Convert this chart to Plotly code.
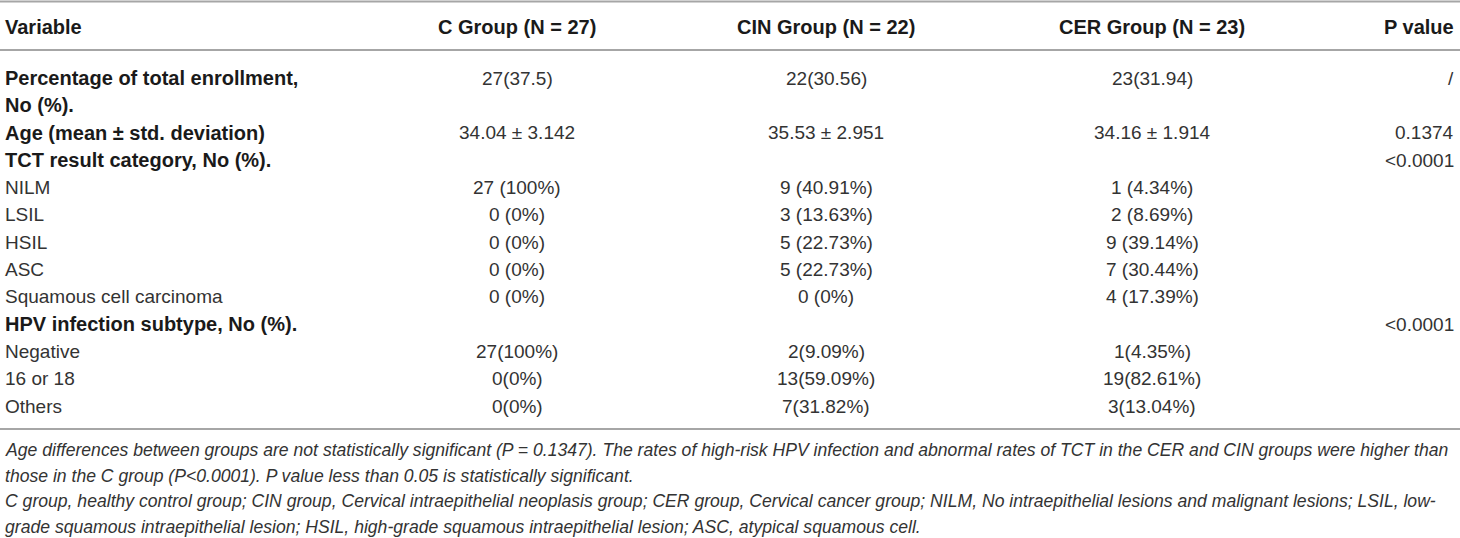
import plotly.graph_objects as go

# table content
header = ["Variable", "C Group (N = 27)", "CIN Group (N = 22)", "CER Group (N = 23)", "P value"]

variables = ["Percentage of total enrollment,<br>No (%).", "Age (mean ± std. deviation)",
             "TCT result category, No (%).", "NILM", "LSIL", "HSIL", "ASC",
             "Squamous cell carcinoma", "HPV infection subtype, No (%).",
             "Negative", "16 or 18", "Others"]
bold_rows = [True, True, True, False, False, False, False, False, True, False, False, False]

c_group = ["27(37.5)", "34.04 ± 3.142", "", "27 (100%)", "0 (0%)", "0 (0%)", "0 (0%)",
           "0 (0%)", "", "27(100%)", "0(0%)", "0(0%)"]
cin_group = ["22(30.56)", "35.53 ± 2.951", "", "9 (40.91%)", "3 (13.63%)", "5 (22.73%)",
             "5 (22.73%)", "0 (0%)", "", "2(9.09%)", "13(59.09%)", "7(31.82%)"]
cer_group = ["23(31.94)", "34.16 ± 1.914", "", "1 (4.34%)", "2 (8.69%)", "9 (39.14%)",
             "7 (30.44%)", "4 (17.39%)", "", "1(4.35%)", "19(82.61%)", "3(13.04%)"]
p_values = ["/", "0.1374", "<0.0001", "", "", "", "", "", "<0.0001", "", "", ""]

footnotes = [
    "Age differences between groups are not statistically significant (P = 0.1347). The rates of high-risk HPV infection and abnormal rates of TCT in the CER and CIN groups were higher than",
    "those in the C group (P<0.0001). P value less than 0.05 is statistically significant.",
    "C group, healthy control group; CIN group, Cervical intraepithelial neoplasis group; CER group, Cervical cancer group; NILM, No intraepithelial lesions and malignant lesions; LSIL, low-",
    "grade squamous intraepithelial lesion; HSIL, high-grade squamous intraepithelial lesion; ASC, atypical squamous cell.",
]

W, H = 1460, 538
FONT = "Liberation Sans, Arial, sans-serif"
TXT = "#333333"
BOLD = "#1a1a1a"
RULE = "#a6a6a6"

# layout in pixel units
col_x = [3, 517, 826, 1152, 1456]
header_y = 27
row0_y = 78
pitch = 27.35
rules_y = [1.5, 50, 429]
foot_y0 = 450
foot_pitch = 25.7

fig = go.Figure()
annotations = []


def cell(x, y, text, anchor, bold=False):
    annotations.append(dict(
        x=x, y=y, xref="x", yref="y", text=("<b>%s</b>" % text) if bold else text,
        showarrow=False, xanchor=anchor, yanchor="middle",
        font=dict(family=FONT, size=20 if bold else 19, color=BOLD if bold else TXT)))


anchors = ["left", "center", "center", "center", "right"]
for j, h in enumerate(header):
    cell(col_x[j], header_y, h, anchors[j], bold=True)

slot = 0
for i, var in enumerate(variables):
    y = row0_y + slot * pitch
    lines = var.split("<br>")
    for k, ln in enumerate(lines):
        cell(col_x[0], y + k * pitch, ln, "left", bold=bold_rows[i])
    for j, col in enumerate([c_group, cin_group, cer_group, p_values]):
        if col[i]:
            cell(col_x[j + 1], y, col[i], anchors[j + 1])
    slot += len(lines)

for k, note in enumerate(footnotes):
    annotations.append(dict(
        x=col_x[0], y=foot_y0 + k * foot_pitch, xref="x", yref="y", text="<i>%s</i>" % note,
        showarrow=False, xanchor="left", yanchor="middle",
        font=dict(family=FONT, size=17.6, color=TXT)))

shapes = [dict(type="line", xref="x", yref="y", x0=0, x1=W, y0=ry, y1=ry,
               line=dict(color=RULE, width=2)) for ry in rules_y]

fig.update_layout(
    width=W, height=H, autosize=False,
    margin=dict(l=0, r=0, t=0, b=0),
    paper_bgcolor="white", plot_bgcolor="white",
    xaxis=dict(range=[0, W], visible=False, fixedrange=True),
    yaxis=dict(range=[H, 0], visible=False, fixedrange=True),
    annotations=annotations, shapes=shapes, showlegend=False,
)

fig.write_html("out.html", config={"displayModeBar": False},
               post_script="document.body.style.margin='0';")
